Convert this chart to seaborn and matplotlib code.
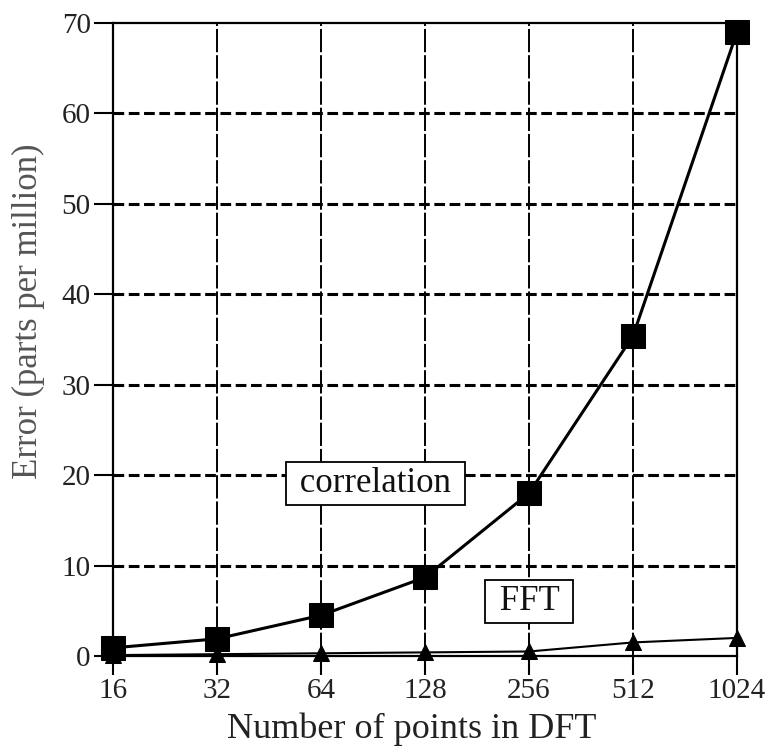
import matplotlib
matplotlib.use("Agg")
import matplotlib.pyplot as plt
import seaborn as sns
import pandas as pd

points = [16, 32, 64, 128, 256, 512, 1024]
correlation = [0.9, 1.9, 4.5, 8.7, 18.0, 35.4, 69.0]
fft = [0.1, 0.2, 0.3, 0.4, 0.5, 1.5, 2.0]
y_ticks = [0, 10, 20, 30, 40, 50, 60, 70]

sns.set_theme(style="white")
plt.rcParams['font.family'] = ['Liberation Serif', 'DejaVu Serif']

fig = plt.figure(figsize=(7.67, 7.48), dpi=100)
ax = fig.add_axes([113/767, 1 - 656/748, (737-113)/767, (656-23)/748])

df = pd.DataFrame({"N": points, "correlation": correlation, "FFT": fft})

for xv in points:
    ax.axvline(xv, color="black", lw=1.4, ls=(0, (12, 1.5)), zorder=1)
for yv in y_ticks[1:-1]:
    ax.axhline(yv, color="black", lw=2.2, ls=(0, (3.5, 1.5)), zorder=1)

sns.lineplot(data=df, x="N", y="correlation", ax=ax, color="black", lw=2.2,
             marker="s", markersize=17, markeredgecolor="black", zorder=3,
             clip_on=False)
sns.lineplot(data=df, x="N", y="FFT", ax=ax, color="black", lw=1.5,
             marker="^", markersize=11, markeredgecolor="black", zorder=3,
             clip_on=False)

ax.set_xscale("log", base=2)
ax.set_xlim(16, 1024)
ax.set_ylim(0, 70)
ax.set_xticks(points)
ax.set_xticklabels([str(p) for p in points])
ax.set_yticks(y_ticks)
ax.minorticks_off()

for s in ax.spines.values():
    s.set_color("black")
    s.set_linewidth(1.6)

ax.tick_params(axis="both", which="major", direction="out", length=14,
               width=1.5, color="black", labelsize=21, labelcolor="#222222",
               bottom=True, left=True, pad=2)

ax.set_xlabel("Number of points in DFT", fontsize=26, color="#222222")
ax.set_ylabel("Error (parts per million)", fontsize=25, color="#555555")
ax.xaxis.set_label_coords(0.478, -0.090)
ax.yaxis.set_label_coords(-0.109, 0.545)

box = dict(boxstyle="square,pad=0.15", fc="white", ec="black", lw=1.3)
ax.text(2**(4 + 2.52), 19.1, " correlation ", fontsize=25, ha="center",
        va="center", bbox=box, zorder=4, color="#111111")
ax.text(2**(4 + 4.0), 6.0, " FFT ", fontsize=25, ha="center", va="center",
        bbox=box, zorder=4, color="#111111")

fig.savefig("out.png", dpi=100)
